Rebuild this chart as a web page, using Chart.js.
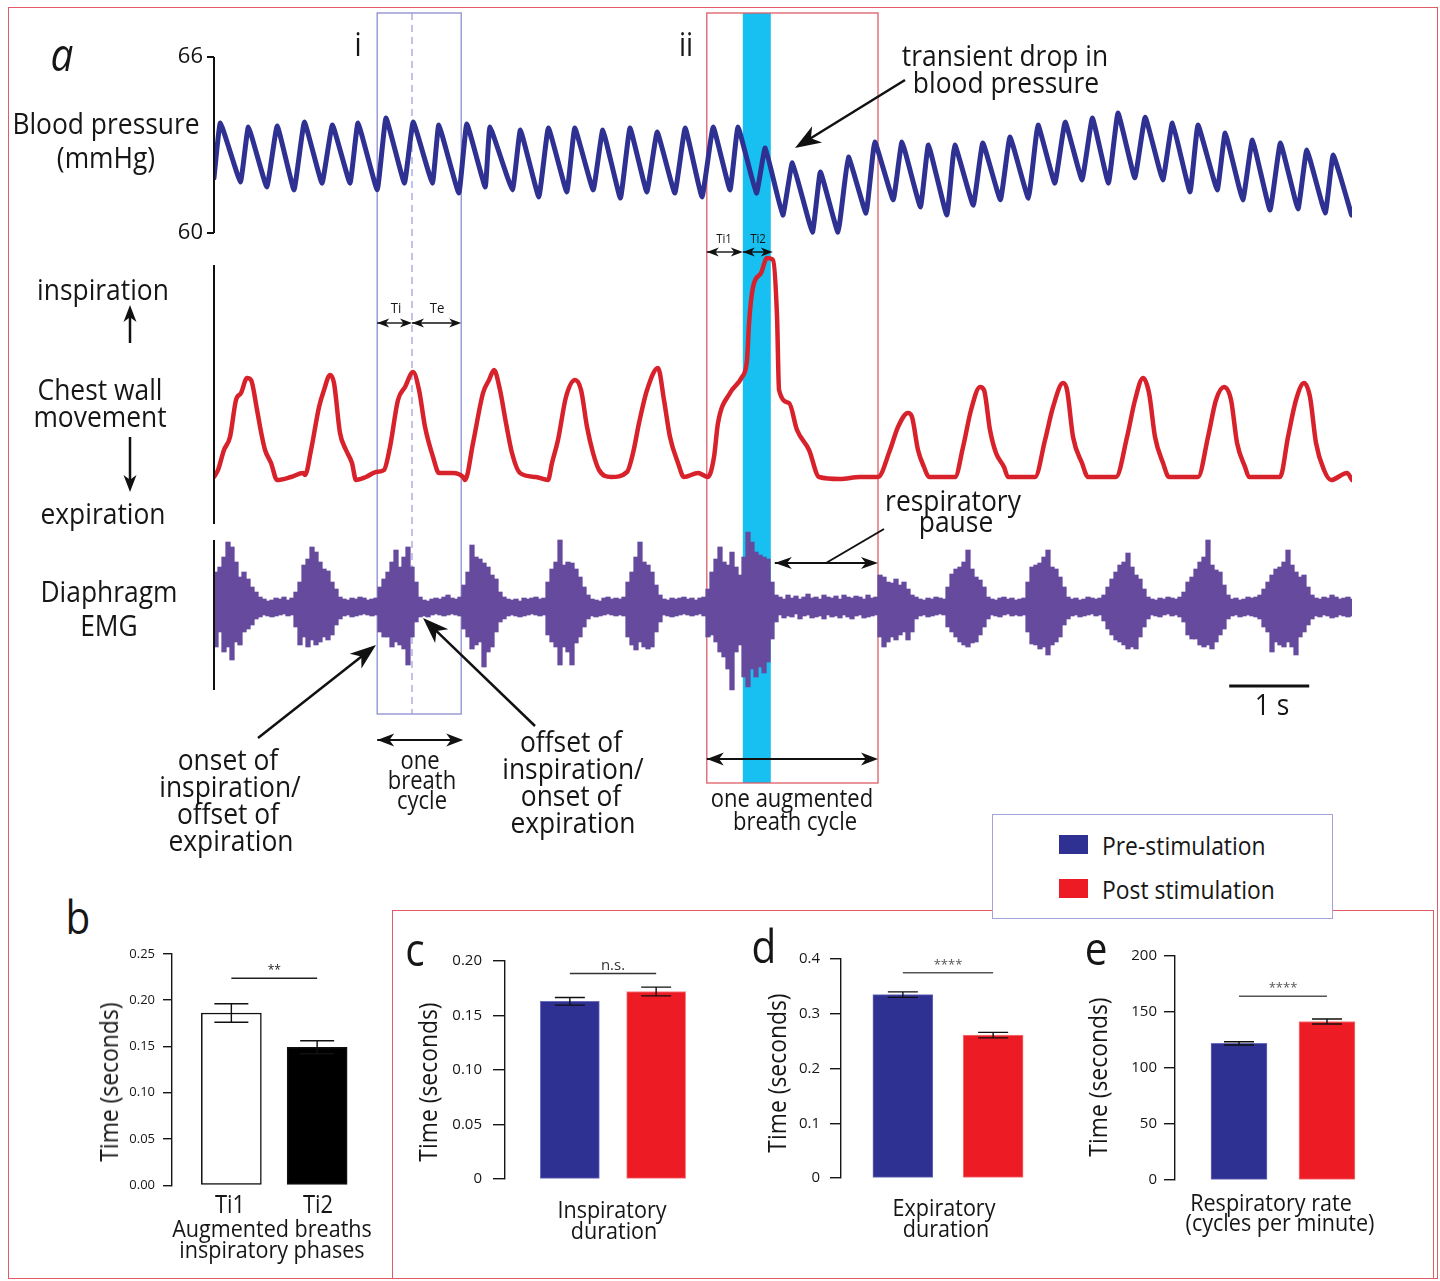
<!DOCTYPE html>
<html>
<head>
<meta charset="utf-8">
<script src="https://cdn.jsdelivr.net/npm/chart.js@4.4.1/dist/chart.umd.min.js"></script>
<style>
  body { margin: 0; background: #fff; }
  #page { position: relative; width: 1440px; height: 1281px; overflow: hidden; font-family: 'Open Sans', sans-serif; color: #161616; }
  canvas { position: absolute; }
  .t { position: absolute; white-space: nowrap; line-height: 1; transform: translate(-50%, -50%) scaleX(.88); }
  .t.l { transform-origin: left center; transform: translate(0, -50%) scaleX(.88); }
  .t.v { transform: translate(-50%, -50%) rotate(-90deg) scaleX(.88); }
  .t.it { font-style: italic; }
  .frame { position: absolute; border: 1.5px solid #e25a66; box-sizing: border-box; }
  #legend { position: absolute; left: 992px; top: 814px; width: 341px; height: 105px; box-sizing: border-box;
            border: 1.5px solid #a4a4da; background: #fff; z-index: 5; }
  .sw { position: absolute; width: 29px; height: 19px; }
</style>
</head>
<body>
<div id="page">
  <div class="frame" style="left:8px;top:7px;width:1430px;height:1272px"></div>
  <div class="frame" style="left:392px;top:910px;width:1042px;height:369px"></div>
  <div id="legend">
    <div class="sw" style="left:66px;top:20px;background:#2e3192"></div>
    <div class="sw" style="left:66px;top:64px;background:#ed1c24"></div>
  </div>
</div>
<script>
// ---------- panel a: traces ----------
// blood pressure, alternating trough / peak (s, mmHg)
const bpTime = [0, 0.08, 0.33, 0.43, 0.66, 0.79, 1.00, 1.13, 1.35, 1.48,
  1.70, 1.80, 2.04, 2.15, 2.38, 2.49, 2.73, 2.81, 3.06, 3.16,
  3.39, 3.45, 3.73, 3.83, 4.06, 4.18, 4.41, 4.51, 4.74, 4.86,
  5.08, 5.20, 5.41, 5.54, 5.76, 5.89, 6.10, 6.24, 6.45, 6.55,
  6.78, 6.89, 7.11, 7.23, 7.48, 7.58, 7.80, 7.93, 8.15, 8.26,
  8.49, 8.60, 8.83, 8.93, 9.16, 9.26, 9.49, 9.61, 9.83, 9.95,
  10.18, 10.30, 10.51, 10.64, 10.85, 10.98, 11.18, 11.30, 11.51, 11.64,
  11.86, 11.98, 12.20, 12.30, 12.54, 12.64, 12.86, 12.98, 13.20, 13.33,
  13.55, 13.66, 13.89, 13.99, 14.22];
const bpValue = [61.88, 63.75, 61.74, 63.61, 61.57, 63.65, 61.47, 63.78, 61.70, 63.68,
  61.70, 63.75, 61.47, 63.92, 61.70, 63.78, 61.70, 63.68, 61.36, 63.72,
  61.57, 63.61, 61.47, 63.51, 61.23, 63.58, 61.40, 63.58, 61.47, 63.51,
  61.19, 63.58, 61.40, 63.44, 61.36, 63.58, 61.23, 63.61, 61.47, 63.61,
  61.36, 62.90, 60.61, 62.39, 60.03, 62.08, 60.03, 62.59, 60.68, 63.10,
  61.13, 63.10, 60.89, 63.00, 60.61, 63.00, 60.95, 63.07, 61.13, 63.27,
  61.19, 63.68, 61.70, 63.78, 61.81, 63.92, 61.70, 64.09, 61.88, 63.95,
  61.81, 63.75, 61.40, 63.68, 61.47, 63.41, 61.13, 63.17, 60.78, 63.07,
  60.82, 62.83, 60.68, 62.66, 60.61];
const bpTicks = [60, 66];

// chest wall movement (s, arbitrary units, 0 = end expiration)
const chestTime = [
  0, 0.05, 0.125, 0.2, 0.275, 0.338, 0.413, 0.463, 0.538, 0.588, 0.638, 0.713, 0.788, 0.963, 1.113,
  1.138, 1.213, 1.313, 1.375, 1.45, 1.5, 1.575, 1.65, 1.725, 1.775, 1.9, 2.025,
  2.125, 2.2, 2.3, 2.388, 2.488, 2.563, 2.638, 2.738, 2.813, 2.988, 3.113,
  3.138, 3.238, 3.363, 3.438, 3.5, 3.575, 3.65, 3.725, 3.825, 4.025, 4.175,
  4.225, 4.3, 4.4, 4.513, 4.588, 4.663, 4.738, 4.813, 4.963, 5.163,
  5.238, 5.313, 5.413, 5.55, 5.625, 5.7, 5.8, 5.875, 6.05, 6.175,
  6.25, 6.3, 6.45, 6.6, 6.663, 6.688, 6.738, 6.838, 6.913, 6.988, 7.038, 7.063, 7.188, 7.288, 7.438, 7.563, 7.825, 8.075, 8.3,
  8.45, 8.55, 8.675, 8.725, 8.8, 8.875, 8.938, 9.263,
  9.363, 9.463, 9.575, 9.625, 9.7, 9.775, 9.875, 9.925, 10.263,
  10.388, 10.488, 10.613, 10.663, 10.738, 10.85, 10.925, 11.275,
  11.413, 11.513, 11.613, 11.688, 11.763, 11.863, 11.938, 12.3,
  12.425, 12.525, 12.625, 12.713, 12.788, 12.888, 12.938, 13.325,
  13.425, 13.525, 13.625, 13.7, 13.775, 13.875, 13.963, 14.163, 14.225];
const chestValue = [
  0, 7, 27, 40, 77, 84, 99, 97, 67, 45, 27, 14, -3, 0, 4,
  2, 27, 70, 87, 102, 94, 44, 27, 14, -3, 0, 5,
  7, 30, 77, 90, 105, 87, 50, 20, 4, 4, 0,
  -3, 34, 84, 97, 107, 87, 54, 24, 4, 0, -3,
  14, 37, 80, 97, 87, 50, 24, 7, 0, 5,
  24, 54, 87, 109, 77, 40, 14, 0, 4, 0,
  20, 54, 84, 100, 117, 154, 190, 204, 219, 217, 160, 87, 74, 47, 27, 0, -2, 0, 0,
  27, 50, 64, 60, 27, 10, 0, 0,
  30, 67, 90, 87, 47, 24, 10, 0, 0,
  37, 70, 94, 87, 40, 14, 0, 0,
  40, 77, 99, 84, 40, 14, 0, 0,
  40, 77, 90, 77, 34, 10, 0, 0,
  40, 77, 94, 80, 34, 7, -3, 4, -3];

// diaphragm EMG envelope, one bin per 50 ms (arbitrary units)
const emgBinSec = 0.05;
const emgHigh = [
  35, 40, 50, 65, 60, 45, 30, 35, 28, 20, 15, 10,
  8, 6, 7, 9, 8, 10, 7, 9,
  15, 25, 42, 48, 60, 55, 45, 38, 36, 25, 18, 10,
  8, 7, 9, 8, 10, 9, 7, 8, 9,
  20, 28, 35, 45, 57, 40, 50, 60, 40, 25, 10,
  7, 6, 8, 9, 8, 10, 12, 9, 8, 10,
  22, 35, 62, 50, 48, 44, 40, 32, 28, 15, 10, 8,
  7, 8, 6, 9, 8, 9, 10, 8, 9,
  25, 38, 45, 67, 42, 45, 44, 38, 30, 20, 12,
  8, 7, 6, 9, 10, 8, 9, 8, 10,
  25, 35, 50, 65, 45, 42, 35, 22, 12,
  8, 7, 9, 8, 9, 10, 8, 9, 7, 9, 10,
  18, 35, 48, 60, 45, 42, 55, 40, 32, 50, 75, 65, 55, 52, 50, 48, 25, 12,
  10, 8, 12, 9, 11, 8, 10, 13, 9, 10, 8, 12, 10, 9, 11, 8, 12, 10, 9, 11, 10, 8, 12, 9, 10,
  32, 30, 25, 24, 28, 22, 25, 18, 12, 10,
  8, 7, 9, 8, 10, 9, 8,
  20, 33, 38, 40, 45, 57, 38, 30, 27, 20, 10,
  8, 7, 9, 10, 8, 9, 7, 8, 9,
  25, 40, 42, 44, 50, 57, 40, 38, 30, 20, 10,
  8, 9, 7, 8, 10, 9, 8, 9,
  12, 20, 28, 35, 42, 45, 54, 40, 32, 28, 18, 10,
  8, 7, 9, 8, 10, 9, 8,
  10, 15, 25, 30, 38, 45, 50, 67, 42, 37, 35, 22, 12,
  8, 9, 7, 8, 10, 9,
  10, 12, 18, 25, 32, 38, 40, 45, 57, 42, 35, 30, 32, 20, 12,
  9, 8, 10, 9, 12, 10, 8, 9, 10, 8];
const emgLow = [
  -40, -25, -45, -40, -53, -35, -38, -25, -22, -18, -12, -10,
  -8, -9, -10, -9, -8, -7, -9, -8,
  -20, -38, -30, -40, -33, -38, -35, -30, -33, -28, -18, -12,
  -9, -8, -10, -9, -8, -7, -8, -9, -8,
  -25, -30, -30, -40, -35, -38, -42, -58, -30, -15, -10,
  -9, -10, -8, -7, -8, -9, -8, -7, -8, -9,
  -22, -30, -42, -38, -35, -60, -45, -40, -25, -15, -12, -9,
  -8, -9, -10, -9, -8, -7, -8, -9, -8,
  -28, -35, -40, -58, -40, -45, -58, -36, -30, -20, -12,
  -9, -10, -9, -8, -7, -8, -9, -8, -9,
  -30, -38, -43, -35, -40, -42, -40, -25, -15,
  -8, -9, -10, -9, -8, -7, -8, -9, -8, -7, -9,
  -30, -28, -35, -45, -50, -62, -83, -45, -38, -70, -80, -62, -70, -60, -66, -55, -32, -15,
  -8, -11, -9, -10, -7, -12, -9, -8, -11, -10, -9, -12, -8, -10, -9, -11, -8, -10, -12, -9, -8, -11, -10, -9, -8,
  -30, -40, -35, -30, -33, -28, -25, -33, -25, -12,
  -9, -8, -10, -9, -8, -7, -8,
  -20, -25, -30, -35, -38, -40, -36, -35, -28, -20, -12,
  -8, -9, -10, -8, -7, -9, -8, -9, -8,
  -25, -37, -38, -42, -40, -48, -38, -35, -30, -18, -12,
  -9, -8, -10, -9, -8, -7, -9, -8,
  -14, -22, -28, -33, -35, -38, -42, -40, -42, -30, -20, -12,
  -8, -9, -10, -8, -7, -9, -8,
  -10, -15, -28, -32, -32, -38, -40, -38, -42, -35, -28, -22, -12,
  -9, -8, -10, -9, -8, -9,
  -10, -12, -20, -25, -45, -35, -38, -40, -35, -40, -48, -30, -25, -18, -12,
  -9, -10, -8, -9, -11, -10, -8, -9, -10, -9];

// marked breaths (s)
const breathI = { onset: 2.04, offset: 2.475, end: 3.09 };
const breathII = { onset: 6.16, ti2Start: 6.61, ti2End: 6.96, end: 8.3 };

// ---------- panels b-e ----------
const groups = ['Pre-stimulation', 'Post stimulation'];
const augPhases = ['Ti1', 'Ti2'];
const augMean = [0.186, 0.149];
const augSem = [0.010, 0.007];
const inspMean = [0.163, 0.172];
const inspSem = [0.0035, 0.004];
const expMean = [0.335, 0.261];
const expSem = [0.005, 0.005];
const rateMean = [122, 141.5];
const rateSem = [1.5, 2.2];
const ticksB = [0, 0.05, 0.10, 0.15, 0.20, 0.25];
const ticksC = [0, 0.05, 0.10, 0.15, 0.20];
const ticksD = [0, 0.1, 0.2, 0.3, 0.4];
const ticksE = [0, 50, 100, 150, 200];

if (emgHigh.length !== emgLow.length || bpTime.length !== bpValue.length || chestTime.length !== chestValue.length) {
  throw new Error('length mismatch ' + [emgHigh.length, emgLow.length, bpTime.length, bpValue.length, chestTime.length, chestValue.length].join(','));
}

Chart.defaults.font.family = '"Open Sans", sans-serif';
Chart.defaults.color = '#161616';

const page = document.getElementById('page');

function label(text, x, y, size, kind) {
  const d = document.createElement('div');
  d.className = 't' + (kind ? ' ' + kind : '');
  d.textContent = text;
  d.style.left = x + 'px';
  d.style.top = y + 'px';
  d.style.fontSize = size + 'px';
  page.appendChild(d);
  return d;
}

function head(ctx, x, y, ang, len, w) {
  const c = Math.cos(ang), s = Math.sin(ang);
  ctx.beginPath();
  ctx.moveTo(x, y);
  ctx.lineTo(x - len * c + w / 2 * s, y - len * s - w / 2 * c);
  ctx.lineTo(x - 0.72 * len * c, y - 0.72 * len * s);
  ctx.lineTo(x - len * c - w / 2 * s, y - len * s + w / 2 * c);
  ctx.closePath();
  ctx.fill();
}

function arrow(ctx, x1, y1, x2, y2, len, w, lw, both) {
  const a = Math.atan2(y2 - y1, x2 - x1);
  ctx.lineWidth = lw;
  ctx.beginPath();
  ctx.moveTo(x1, y1);
  ctx.lineTo(x2 - 0.6 * len * Math.cos(a), y2 - 0.6 * len * Math.sin(a));
  ctx.stroke();
  head(ctx, x2, y2, a, len, w);
  if (both) head(ctx, x1, y1, a + Math.PI, len, w);
}

// ---------- panel a chart ----------
const AREA = { left: 214, right: 1352, top: 13, bottom: 783 };
function fitRange(v1, p1, v2, p2) {
  const k = (v2 - v1) / (p2 - p1);
  return { min: v1 + (AREA.bottom - p1) * k, max: v1 + (AREA.top - p1) * k };
}
const bpRange = fitRange(66, 57, 60, 233);
const cwRange = fitRange(0, 477, 100, 377);
const emgRange = fitRange(0, 607, 50, 557);

const traceAnnotations = {
  id: 'traceAnnotations',
  beforeDatasetsDraw(chart) {
    const { ctx, chartArea, scales: { x } } = chart;
    const top = chartArea.top;
    ctx.save();
    // Ti2 band
    const c1 = x.getPixelForValue(breathII.ti2Start), c2 = x.getPixelForValue(breathII.ti2End);
    ctx.fillStyle = '#17c0f1';
    ctx.fillRect(c1, top, c2 - c1, 783 - top);
    // box i
    const i1 = x.getPixelForValue(breathI.onset), i2 = x.getPixelForValue(breathI.end);
    ctx.strokeStyle = '#8c8cd0';
    ctx.lineWidth = 1.3;
    ctx.strokeRect(i1, top, i2 - i1, 714 - top);
    const im = x.getPixelForValue(breathI.offset);
    ctx.strokeStyle = '#a0a0e0';
    ctx.setLineDash([7, 5]);
    ctx.beginPath(); ctx.moveTo(im, top); ctx.lineTo(im, 714); ctx.stroke();
    ctx.setLineDash([]);
    // box ii
    const j1 = x.getPixelForValue(breathII.onset), j2 = x.getPixelForValue(breathII.end);
    ctx.strokeStyle = '#dc5d68';
    ctx.strokeRect(j1, top, j2 - j1, 783 - top);
    ctx.restore();
  },
  afterDatasetsDraw(chart) {
    const { ctx, chartArea, scales: { x, yBP, yCW, yEMG } } = chart;
    const L = chartArea.left;
    ctx.save();
    ctx.strokeStyle = '#111';
    ctx.fillStyle = '#111';
    ctx.lineWidth = 2;
    // vertical axes
    ctx.beginPath();
    ctx.moveTo(L, yBP.getPixelForValue(66)); ctx.lineTo(L, yBP.getPixelForValue(60));
    ctx.moveTo(L, yCW.getPixelForValue(212)); ctx.lineTo(L, yCW.getPixelForValue(-47));
    ctx.moveTo(L, yEMG.getPixelForValue(67)); ctx.lineTo(L, yEMG.getPixelForValue(-83));
    ctx.stroke();
    ctx.font = '22px "Open Sans"';
    ctx.textAlign = 'right';
    ctx.textBaseline = 'middle';
    bpTicks.forEach(v => {
      const p = yBP.getPixelForValue(v);
      ctx.beginPath(); ctx.moveTo(L - 7, p); ctx.lineTo(L, p); ctx.stroke();
      ctx.fillText(String(v), L - 11, p);
    });

    const X = t => x.getPixelForValue(t);
    // Ti / Te
    arrow(ctx, X(breathI.onset), 323, X(breathI.offset), 323, 12, 9, 1.4, true);
    arrow(ctx, X(breathI.offset), 323, X(breathI.end), 323, 12, 9, 1.4, true);
    // Ti1 / Ti2
    arrow(ctx, X(breathII.onset), 252, X(breathII.ti2Start), 252, 12, 9, 1.4, true);
    arrow(ctx, X(breathII.ti2Start), 252, X(breathII.ti2End) + 2, 252, 12, 9, 1.4, true);
    // one breath cycle / augmented cycle
    arrow(ctx, X(breathI.onset), 740, X(breathI.end) + 2, 740, 17, 13, 2, true);
    arrow(ctx, X(breathII.onset), 759, X(breathII.end), 759, 17, 13, 2, true);
    // respiratory pause
    arrow(ctx, X(breathII.ti2End) + 4, 563, X(breathII.end), 563, 17, 12, 2, true);
    ctx.lineWidth = 2;
    ctx.beginPath(); ctx.moveTo(826, 563); ctx.lineTo(884, 529); ctx.stroke();
    // pointers
    arrow(ctx, 905, 80, 795, 148, 26, 19, 2.5, false);
    arrow(ctx, 258, 738, 376, 645, 26, 19, 2.5, false);
    arrow(ctx, 535, 726, 423, 618, 26, 19, 2.5, false);
    arrow(ctx, 130, 343, 130, 305, 17, 13, 2.5, false);
    arrow(ctx, 130, 437, 130, 492, 17, 13, 2.5, false);
    // 1 s scale bar
    ctx.lineWidth = 3;
    ctx.beginPath(); ctx.moveTo(X(12.69), 686); ctx.lineTo(X(13.69), 686); ctx.stroke();
    ctx.restore();
  }
};

const aCanvas = document.createElement('canvas');
aCanvas.width = 1440; aCanvas.height = 870;
aCanvas.style.left = '0px'; aCanvas.style.top = '0px';
page.appendChild(aCanvas);

new Chart(aCanvas, {
  type: 'line',
  data: {
    datasets: [
      {
        label: 'Blood pressure',
        data: bpTime.map((t, i) => ({ x: t, y: bpValue[i] })),
        yAxisID: 'yBP',
        borderColor: '#2e3192',
        borderWidth: 5,
        pointRadius: 0,
        tension: 0.1,
        borderJoinStyle: 'round',
        borderCapStyle: 'round'
      },
      {
        label: 'Chest wall movement',
        data: chestTime.map((t, i) => ({ x: t, y: chestValue[i] })),
        yAxisID: 'yCW',
        borderColor: '#d8222b',
        borderWidth: 4.5,
        pointRadius: 0,
        cubicInterpolationMode: 'monotone',
        borderJoinStyle: 'round',
        borderCapStyle: 'round'
      },
      {
        type: 'bar',
        label: 'Diaphragm EMG',
        data: emgHigh.map((h, i) => ({ x: (i + 0.5) * emgBinSec, y: [emgLow[i], h] })),
        yAxisID: 'yEMG',
        backgroundColor: '#654a9e',
        borderWidth: 0,
        barThickness: 4.6
      }
    ]
  },
  options: {
    responsive: false,
    animation: false,
    layout: { padding: { left: AREA.left, right: 1440 - AREA.right, top: AREA.top, bottom: 870 - AREA.bottom } },
    plugins: { legend: { display: false }, tooltip: { enabled: false } },
    scales: {
      x: { type: 'linear', min: 0, max: 14.225, offset: false, display: false },
      yBP: { type: 'linear', min: bpRange.min, max: bpRange.max, display: false },
      yCW: { type: 'linear', min: cwRange.min, max: cwRange.max, display: false },
      yEMG: { type: 'linear', min: emgRange.min, max: emgRange.max, display: false }
    }
  },
  plugins: [traceAnnotations]
});

// ---------- bar panels ----------
const errorBars = {
  id: 'errorBars',
  afterDatasetsDraw(chart, args, opts) {
    const { ctx, scales: { y } } = chart;
    const meta = chart.getDatasetMeta(0);
    const vals = chart.data.datasets[0].data;
    ctx.save();
    ctx.strokeStyle = '#111';
    ctx.lineWidth = 1.4;
    meta.data.forEach((bar, i) => {
      const v = vals[i].y, e = opts.sem[i];
      const yt = y.getPixelForValue(v + e), yb = y.getPixelForValue(v - e);
      ctx.beginPath();
      ctx.moveTo(bar.x, yt); ctx.lineTo(bar.x, yb);
      ctx.moveTo(bar.x - opts.cap / 2, yt); ctx.lineTo(bar.x + opts.cap / 2, yt);
      ctx.moveTo(bar.x - opts.cap / 2, yb); ctx.lineTo(bar.x + opts.cap / 2, yb);
      ctx.stroke();
    });
    // significance bracket
    const ys = y.getPixelForValue(opts.sigLevel);
    const x1 = meta.data[0].x, x2 = meta.data[1].x;
    ctx.strokeStyle = opts.sigColor;
    ctx.lineWidth = 1.5;
    ctx.beginPath(); ctx.moveTo(x1, ys); ctx.lineTo(x2, ys); ctx.stroke();
    ctx.fillStyle = opts.sigColor;
    ctx.font = opts.sigFont;
    ctx.textAlign = 'center';
    ctx.textBaseline = 'alphabetic';
    ctx.fillText(opts.sigText, (x1 + x2) / 2, ys - 4);
    ctx.restore();
  }
};

function barPanel(p) {
  const W = 80;
  const left = p.axisX - W;
  const right = p.centers[1] + p.barWidth;
  const top = p.yTop - 12, bottom = p.yBottom + 12;
  const cv = document.createElement('canvas');
  cv.width = right - left; cv.height = bottom - top;
  cv.style.left = left + 'px'; cv.style.top = top + 'px';
  page.appendChild(cv);
  const unit = p.centers[1] - p.centers[0];
  const xmin = 1 - (p.centers[0] - p.axisX) / unit;
  const xmax = xmin + (right - p.axisX) / unit;
  new Chart(cv, {
    type: 'bar',
    data: {
      datasets: [{
        label: p.name,
        data: p.values.map((v, i) => ({ x: i + 1, y: v })),
        backgroundColor: p.colors,
        borderColor: p.borders,
        borderWidth: p.borderWidth,
        borderSkipped: false,
        barThickness: p.barWidth
      }]
    },
    options: {
      responsive: false,
      animation: false,
      layout: { padding: { top: 12, bottom: 12, left: 0, right: 0 } },
      plugins: {
        legend: { display: false },
        tooltip: { enabled: false },
        errorBars: { sem: p.sem, cap: p.cap, sigLevel: p.sigLevel, sigText: p.sigText, sigColor: p.sigColor, sigFont: p.sigFont }
      },
      scales: {
        x: { type: 'linear', min: xmin, max: xmax, offset: false, display: false },
        y: {
          min: p.ticks[0], max: p.ticks[p.ticks.length - 1],
          afterFit(s) { s.width = W; },
          afterBuildTicks(s) { s.ticks = p.ticks.map(v => ({ value: v })); },
          ticks: { callback: p.fmt, font: { size: p.fontSize }, color: '#161616', padding: p.pad },
          grid: { drawOnChartArea: false, drawTicks: true, tickLength: p.tickLen, color: '#161616', lineWidth: 1.4 },
          border: { display: true, color: '#161616', width: 1.4 }
        }
      }
    },
    plugins: [errorBars]
  });
}

barPanel({
  name: 'Augmented breaths', axisX: 172, yTop: 950, yBottom: 1189, ticks: ticksB,
  fmt: v => v.toFixed(2), fontSize: 13, tickLen: 9, pad: 8,
  centers: [231.5, 317.5], barWidth: 60, values: augMean, sem: augSem, cap: 34,
  colors: ['#ffffff', '#000000'], borders: ['#111', '#111'], borderWidth: 1.5,
  sigLevel: 0.2236, sigText: '**', sigColor: '#222', sigFont: '12px "Open Sans"'
});
barPanel({
  name: 'Inspiratory duration', axisX: 505, yTop: 953, yBottom: 1187, ticks: ticksC,
  fmt: v => v === 0 ? '0' : v.toFixed(2), fontSize: 15, tickLen: 12, pad: 11,
  centers: [570, 656.5], barWidth: 59, values: inspMean, sem: inspSem, cap: 30,
  colors: ['#2e3192', '#ed1c24'], borders: ['#6a6db8', '#f27a7e'], borderWidth: 1,
  sigLevel: 0.1885, sigText: 'n.s.', sigColor: '#333', sigFont: '15px "Open Sans"'
});
barPanel({
  name: 'Expiratory duration', axisX: 841, yTop: 952, yBottom: 1185, ticks: ticksD,
  fmt: v => v === 0 ? '0' : v.toFixed(1), fontSize: 15, tickLen: 11, pad: 10,
  centers: [903, 993.5], barWidth: 60, values: expMean, sem: expSem, cap: 30,
  colors: ['#2e3192', '#ed1c24'], borders: ['#6a6db8', '#f27a7e'], borderWidth: 1,
  sigLevel: 0.375, sigText: '****', sigColor: '#555', sigFont: '13px "Open Sans"'
});
barPanel({
  name: 'Respiratory rate', axisX: 1175, yTop: 952, yBottom: 1184, ticks: ticksE,
  fmt: v => String(v), fontSize: 15, tickLen: 11, pad: 7,
  centers: [1239, 1327], barWidth: 56, values: rateMean, sem: rateSem, cap: 30,
  colors: ['#2e3192', '#ed1c24'], borders: ['#6a6db8', '#f27a7e'], borderWidth: 1,
  sigLevel: 164, sigText: '****', sigColor: '#555', sigFont: '13px "Open Sans"'
});

// ---------- text ----------
[
  ['a', 62, 53, 46, 'it'],
  ['i', 358, 44, 32], ['ii', 686, 44, 32],
  ['Blood pressure', 106, 123, 30], ['(mmHg)', 106, 157, 30],
  ['transient drop in', 1005, 55, 30], ['blood pressure', 1006, 82, 30],
  ['inspiration', 103, 289, 30], ['Chest wall', 100, 389, 30], ['movement', 100, 416, 30],
  ['expiration', 103, 513, 30], ['Diaphragm', 109, 591, 30], ['EMG', 109, 625, 30],
  ['Ti', 396, 307, 15], ['Te', 437, 307, 15], ['Ti1', 724, 238, 13], ['Ti2', 758, 238, 13],
  ['respiratory', 953, 500, 30], ['pause', 956, 521, 30],
  ['one', 420, 759, 25], ['breath', 422, 779, 25], ['cycle', 422, 799, 25],
  ['onset of', 228, 759, 30], ['inspiration/', 230, 786, 30], ['offset of', 228, 813, 30], ['expiration', 231, 840, 30],
  ['offset of', 571, 741, 30], ['inspiration/', 573, 768, 30], ['onset of', 571, 795, 30], ['expiration', 573, 822, 30],
  ['one augmented', 792, 797, 25], ['breath cycle', 795, 820, 25],
  ['1 s', 1272, 704, 30],
  ['b', 78, 916, 46],
  [augPhases[0], 230, 1203, 25], [augPhases[1], 318, 1203, 25],
  ['Augmented breaths', 272, 1228, 24.5], ['inspiratory phases', 272, 1249, 24.5],
  ['Time (seconds)', 108, 1082, 26, 'v'],
  ['c', 415, 948, 46],
  ['Time (seconds)', 427, 1082, 26, 'v'],
  ['Inspiratory', 612, 1209, 24.5], ['duration', 614, 1230, 24.5],
  ['d', 764, 945, 46],
  ['Time (seconds)', 776, 1073, 26, 'v'],
  ['Expiratory', 944, 1207, 24.5], ['duration', 946, 1228, 24.5],
  ['e', 1096, 947, 46],
  ['Time (seconds)', 1097, 1077, 26, 'v'],
  ['Respiratory rate', 1271, 1202, 24.5], ['(cycles per minute)', 1280, 1222, 24.5]
].forEach(r => label(r[0], r[1], r[2], r[3], r[4]));

const lg = document.getElementById('legend');
groups.forEach((g, i) => {
  const d = document.createElement('div');
  d.className = 't l';
  d.textContent = g;
  d.style.left = '109px';
  d.style.top = (30 + i * 44) + 'px';
  d.style.fontSize = '26px';
  lg.appendChild(d);
});
</script>
</body>
</html>
